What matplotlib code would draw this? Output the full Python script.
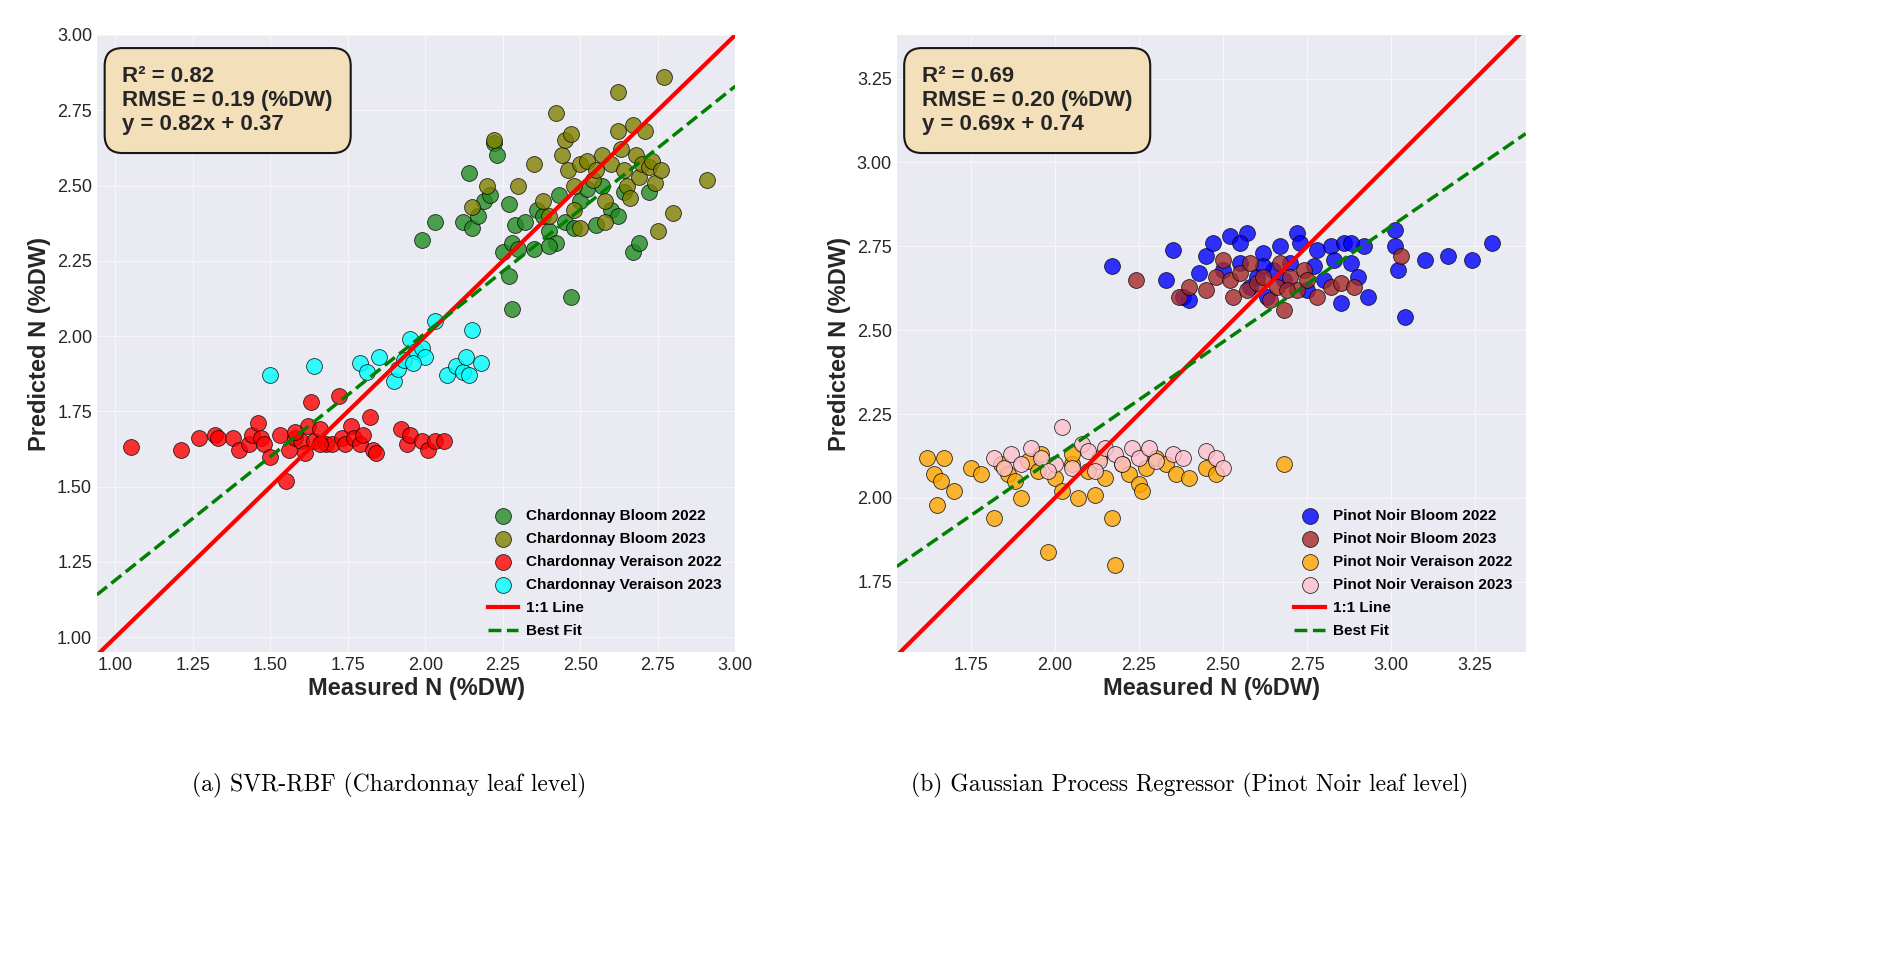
import matplotlib
matplotlib.use("Agg")
import matplotlib.pyplot as plt
import numpy as np

plt.rcParams['font.family'] = ['Liberation Sans', 'DejaVu Sans']

# ---- Chardonnay (SVR-RBF) ----
ch_bloom22 = [(1.99,2.32),(2.03,2.38),(2.12,2.38),(2.14,2.54),(2.15,2.36),(2.17,2.40),(2.19,2.45),(2.21,2.47),
              (2.22,2.64),(2.23,2.60),(2.25,2.28),(2.27,2.44),(2.27,2.20),(2.28,2.31),(2.28,2.09),(2.29,2.37),
              (2.30,2.29),(2.32,2.38),(2.35,2.29),(2.36,2.42),(2.38,2.40),(2.40,2.35),(2.42,2.31),(2.43,2.47),
              (2.45,2.38),(2.47,2.13),(2.48,2.36),(2.50,2.45),(2.52,2.49),(2.55,2.37),(2.57,2.50),(2.60,2.42),
              (2.62,2.40),(2.64,2.48),(2.67,2.28),(2.69,2.31),(2.72,2.48),(2.40,2.30)]
ch_bloom23 = [(2.15,2.43),(2.20,2.50),(2.22,2.65),(2.30,2.50),(2.35,2.57),(2.38,2.45),(2.40,2.40),(2.42,2.74),
              (2.44,2.60),(2.45,2.65),(2.46,2.55),(2.47,2.67),(2.48,2.50),(2.50,2.57),(2.50,2.36),(2.52,2.58),
              (2.54,2.52),(2.55,2.55),(2.57,2.60),(2.58,2.38),(2.60,2.57),(2.62,2.81),(2.62,2.68),(2.63,2.62),
              (2.64,2.55),(2.65,2.50),(2.66,2.46),(2.67,2.70),(2.68,2.60),(2.69,2.53),(2.70,2.57),(2.71,2.68),
              (2.72,2.56),(2.73,2.58),(2.74,2.51),(2.75,2.35),(2.76,2.55),(2.77,2.86),(2.80,2.41),(2.91,2.52),
              (2.58,2.45),(2.48,2.42)]
ch_ver22 = [(1.05,1.63),(1.21,1.62),(1.27,1.66),(1.32,1.67),(1.33,1.66),(1.38,1.66),(1.40,1.62),(1.43,1.64),
            (1.44,1.67),(1.46,1.71),(1.47,1.66),(1.48,1.64),(1.50,1.60),(1.53,1.67),(1.55,1.52),(1.56,1.62),
            (1.58,1.66),(1.60,1.65),(1.61,1.61),(1.62,1.70),(1.63,1.78),(1.64,1.65),(1.66,1.69),(1.68,1.64),
            (1.70,1.64),(1.72,1.80),(1.73,1.66),(1.74,1.64),(1.76,1.70),(1.77,1.66),(1.79,1.64),(1.80,1.67),
            (1.82,1.73),(1.83,1.62),(1.84,1.61),(1.92,1.69),(1.94,1.64),(1.95,1.67),(1.99,1.65),(2.01,1.62),
            (2.03,1.65),(2.06,1.65),(1.58,1.68),(1.66,1.64)]
ch_ver23 = [(1.50,1.87),(1.64,1.90),(1.79,1.91),(1.81,1.88),(1.85,1.93),(1.90,1.85),(1.91,1.89),(1.93,1.92),
            (1.95,1.99),(1.97,1.95),(1.99,1.96),(2.00,1.93),(2.03,2.05),(2.07,1.87),(2.10,1.90),(2.12,1.88),
            (2.13,1.93),(2.14,1.87),(2.15,2.02),(2.18,1.91),(1.96,1.91)]

# ---- Pinot Noir (GPR) ----
pn_bloom22 = [(2.17,2.69),(2.33,2.65),(2.35,2.74),(2.38,2.60),(2.40,2.59),(2.43,2.67),(2.45,2.72),(2.47,2.76),
              (2.50,2.68),(2.52,2.78),(2.55,2.70),(2.57,2.79),(2.58,2.63),(2.60,2.66),(2.62,2.73),(2.63,2.60),
              (2.65,2.68),(2.67,2.75),(2.68,2.65),(2.70,2.70),(2.72,2.79),(2.73,2.76),(2.75,2.62),(2.77,2.69),
              (2.78,2.74),(2.80,2.65),(2.82,2.75),(2.83,2.71),(2.85,2.58),(2.86,2.76),(2.88,2.70),(2.90,2.66),
              (2.92,2.75),(2.93,2.60),(3.01,2.80),(3.01,2.75),(3.02,2.68),(3.04,2.54),(3.10,2.71),(3.17,2.72),
              (3.24,2.71),(3.30,2.76),(2.55,2.76),(2.62,2.69),(2.88,2.76)]
pn_bloom23 = [(2.24,2.65),(2.37,2.60),(2.40,2.63),(2.45,2.62),(2.48,2.66),(2.50,2.71),(2.52,2.65),(2.53,2.60),
              (2.55,2.67),(2.57,2.62),(2.60,2.64),(2.62,2.66),(2.64,2.59),(2.66,2.63),(2.67,2.70),(2.68,2.56),
              (2.70,2.66),(2.72,2.62),(2.74,2.68),(2.75,2.65),(2.78,2.60),(2.82,2.63),(2.85,2.64),(2.89,2.63),
              (3.03,2.72),(2.58,2.70),(2.69,2.62)]
pn_ver22 = [(1.62,2.12),(1.64,2.07),(1.65,1.98),(1.66,2.05),(1.67,2.12),(1.70,2.02),(1.75,2.09),(1.78,2.07),
            (1.82,1.94),(1.84,2.10),(1.86,2.07),(1.88,2.05),(1.90,2.00),(1.92,2.11),(1.95,2.08),(1.98,1.84),
            (2.00,2.06),(2.02,2.02),(2.05,2.10),(2.07,2.00),(2.10,2.08),(2.12,2.01),(2.15,2.06),(2.17,1.94),
            (2.18,1.80),(2.20,2.10),(2.22,2.07),(2.25,2.04),(2.27,2.09),(2.30,2.12),(2.33,2.10),(2.36,2.07),
            (2.40,2.06),(2.45,2.09),(2.48,2.07),(2.68,2.10),(2.05,2.13),(2.13,2.12),(1.96,2.13),(2.26,2.02)]
pn_ver23 = [(1.82,2.12),(1.85,2.09),(1.87,2.13),(1.90,2.10),(1.93,2.15),(1.96,2.12),(2.00,2.10),(2.02,2.21),
            (2.05,2.09),(2.08,2.16),(2.10,2.14),(2.13,2.11),(2.15,2.15),(2.18,2.13),(2.20,2.10),(2.23,2.15),
            (2.25,2.12),(2.28,2.15),(2.30,2.11),(2.35,2.13),(2.38,2.12),(2.45,2.14),(2.48,2.12),(2.50,2.09),
            (2.12,2.08),(1.98,2.08)]

panels = [
    dict(pos=[0.051, 0.329, 0.336, 0.635], xlim=(0.94, 3.0), ylim=(0.95, 3.0),
         xticks=np.arange(1.0, 3.01, 0.25), yticks=np.arange(1.0, 3.01, 0.25),
         groups=[(ch_bloom22, 'forestgreen', 'Chardonnay Bloom 2022'),
                 (ch_bloom23, 'olive', 'Chardonnay Bloom 2023'),
                 (ch_ver22, 'red', 'Chardonnay Veraison 2022'),
                 (ch_ver23, 'cyan', 'Chardonnay Veraison 2023')],
         fit=(0.82, 0.37), text="R² = 0.82\nRMSE = 0.19 (%DW)\ny = 0.82x + 0.37",
         caption="(a) SVR-RBF (Chardonnay leaf level)", cx=0.205),
    dict(pos=[0.472, 0.329, 0.331, 0.635], xlim=(1.53, 3.40), ylim=(1.54, 3.38),
         xticks=np.arange(1.75, 3.26, 0.25), yticks=np.arange(1.75, 3.26, 0.25),
         groups=[(pn_bloom22, 'blue', 'Pinot Noir Bloom 2022'),
                 (pn_bloom23, 'brown', 'Pinot Noir Bloom 2023'),
                 (pn_ver22, 'orange', 'Pinot Noir Veraison 2022'),
                 (pn_ver23, 'pink', 'Pinot Noir Veraison 2023')],
         fit=(0.69, 0.74), text="R² = 0.69\nRMSE = 0.20 (%DW)\ny = 0.69x + 0.74",
         caption="(b) Gaussian Process Regressor (Pinot Noir leaf level)", cx=0.626),
]

fig = plt.figure(figsize=(19, 9.72), dpi=100)
for p in panels:
    ax = fig.add_axes(p['pos'])
    ax.set_facecolor('#EAEAF2')
    ax.grid(True, color='white', lw=0.8, alpha=0.6)
    ax.set_axisbelow(True)
    for s in ax.spines.values():
        s.set_visible(False)
    for pts, col, lab in p['groups']:
        a = np.array(pts)
        ax.scatter(a[:, 0], a[:, 1], s=130, c=col, alpha=0.8, edgecolors='black',
                   linewidths=0.6, label=lab, zorder=3)
    xs = np.array(p['xlim'])
    ax.plot(xs, xs, color='red', lw=3, label='1:1 Line', zorder=4)
    m, b = p['fit']
    ax.plot(xs, m * xs + b, color='green', ls='--', lw=2.5, label='Best Fit', zorder=4)
    ax.set_xlim(p['xlim'])
    ax.set_ylim(p['ylim'])
    ax.set_xticks(p['xticks'])
    ax.set_yticks(p['yticks'])
    ax.tick_params(labelsize=13, length=0, colors='#262626')
    ax.set_xlabel('Measured N (%DW)', fontsize=17, fontweight='bold', labelpad=2, color='#262626')
    ax.set_ylabel('Predicted N (%DW)', fontsize=17, fontweight='bold', color='#262626')
    ax.text(0.04, 0.95, p['text'], transform=ax.transAxes, va='top', fontsize=16,
            fontweight='bold', linespacing=1.2, color='#262626',
            bbox=dict(boxstyle='round,pad=0.8', facecolor='wheat', edgecolor='black', lw=1.5, alpha=0.9))
    ax.legend(loc='lower right', frameon=False, prop={'weight': 'bold', 'size': 11},
              handletextpad=0.5, labelspacing=0.6)
    fig.text(p['cx'], 0.192, p['caption'], ha='center', va='center', fontsize=17, family='cmr10')

fig.savefig('out.png', dpi=100)
